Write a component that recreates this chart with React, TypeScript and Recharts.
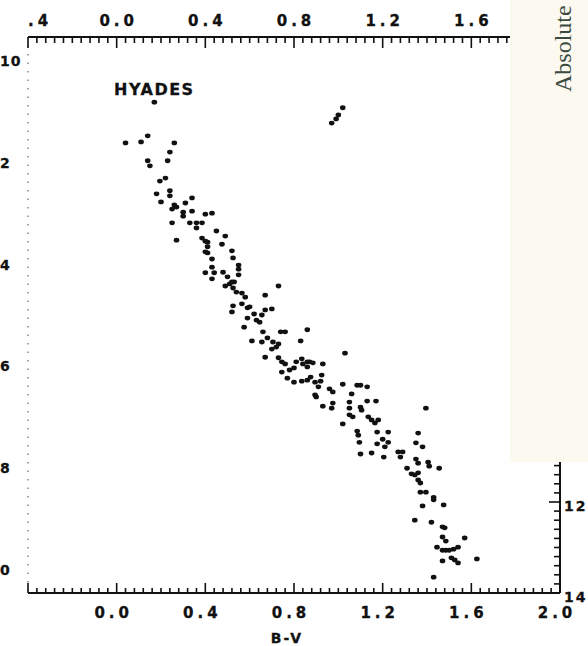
import { ScatterChart, Scatter, XAxis, YAxis, ReferenceDot } from "recharts";

// B-V axis (top and bottom share one scale)
const bvMajor = [-0.4, 0, 0.4, 0.8, 1.2, 1.6, 2.0];
const topLabels = [".4", "0.0", "0.4", "0.8", "1.2", "1.6", "2.0"];
const bottomLabels = ["", "0.0", "0.4", "0.8", "1.2", "1.6", "2.0"];

// magnitude axis on the left, as it reads on the scan
const magTicks = [0, 2, 4, 6, 8, 10];
const magLabels = ["10", "2", "4", "6", "8", "0"];

// stub of the neighbouring panel's axis on the right
const rightMajor = [12, 14];
const rightLabels = ["12", "14"];

// [B-V, M] main sequence
const mainSequence: [number, number][] = [
  [0.04, 1.61], [0.11, 1.59], [0.14, 1.47], [0.26, 1.61], [0.24, 1.79],
  [0.14, 1.96], [0.15, 2.06], [0.23, 1.96], [0.195, 2.36], [0.22, 2.3],
  [0.18, 2.61], [0.24, 2.55], [0.24, 2.65], [0.2, 2.77], [0.34, 2.69],
  [0.26, 2.83], [0.27, 2.87], [0.25, 2.91], [0.31, 2.79], [0.3, 2.97],
  [0.3, 3.05], [0.34, 2.95], [0.4, 3.01], [0.43, 2.99], [0.25, 3.18],
  [0.33, 3.18], [0.36, 3.18], [0.36, 3.28], [0.385, 3.18], [0.45, 3.34],
  [0.49, 3.44], [0.27, 3.52], [0.385, 3.48], [0.4, 3.54], [0.41, 3.56],
  [0.475, 3.6], [0.41, 3.65], [0.4, 3.75], [0.41, 3.77], [0.52, 3.73],
  [0.43, 3.89], [0.525, 3.87], [0.43, 4.05], [0.55, 4.01], [0.55, 4.09],
  [0.55, 4.2], [0.4, 4.16], [0.44, 4.16], [0.43, 4.28], [0.48, 4.15],
  [0.5, 4.24], [0.52, 4.34], [0.53, 4.34], [0.49, 4.42], [0.51, 4.38],
  [0.73, 4.42], [0.525, 4.46], [0.54, 4.54], [0.565, 4.56], [0.58, 4.64],
  [0.67, 4.6], [0.525, 4.81], [0.52, 4.93], [0.565, 4.77], [0.59, 4.85],
  [0.6, 4.83], [0.67, 4.89], [0.7, 4.87], [0.655, 4.99], [0.59, 5.05],
  [0.62, 4.97], [0.63, 5.09], [0.645, 5.13], [0.575, 5.23], [0.66, 5.32],
  [0.74, 5.32], [0.76, 5.32], [0.86, 5.28], [0.61, 5.5], [0.655, 5.52],
  [0.68, 5.44], [0.705, 5.52], [0.72, 5.62], [0.73, 5.56], [0.83, 5.5],
  [0.7, 5.66], [1.03, 5.74], [0.67, 5.82], [0.73, 5.83], [0.745, 5.91],
  [0.76, 5.95], [0.81, 5.91], [0.835, 5.85], [0.84, 5.95], [0.86, 5.91],
  [0.87, 5.91], [0.885, 5.93], [0.86, 6.01], [0.8, 6.03], [0.78, 6.07],
  [0.93, 5.95], [0.745, 6.11], [0.77, 6.23], [0.8, 6.31], [0.835, 6.29],
  [0.86, 6.27], [0.875, 6.21], [0.895, 6.31], [0.92, 6.29], [0.925, 6.17],
  [0.91, 6.4], [1.02, 6.35], [1.085, 6.37], [1.1, 6.37], [1.13, 6.4],
  [0.96, 6.44], [0.975, 6.5], [0.895, 6.56], [0.9, 6.6], [1.06, 6.54],
  [0.93, 6.78], [0.97, 6.82], [0.975, 6.72], [1.05, 6.7], [1.05, 6.82],
  [1.1, 6.8], [1.105, 6.86], [1.13, 6.68], [1.17, 6.68], [1.395, 6.82],
  [1.05, 6.95], [1.065, 6.99], [1.02, 7.13], [1.135, 6.99], [1.15, 7.05],
  [1.165, 7.11], [1.18, 7.05], [1.085, 7.27], [1.09, 7.35], [1.095, 7.49],
  [1.175, 7.29], [1.225, 7.29], [1.2, 7.43], [1.225, 7.49], [1.175, 7.52],
  [1.21, 7.58], [1.1, 7.72], [1.15, 7.7], [1.205, 7.78], [1.27, 7.68],
  [1.29, 7.68], [1.28, 7.78], [1.36, 7.31], [1.35, 7.5], [1.38, 7.58],
  [1.35, 7.82], [1.36, 7.9], [1.405, 7.88], [1.41, 7.96], [1.455, 8.0],
  [1.31, 8.0], [1.33, 8.11], [1.345, 8.13], [1.36, 8.09], [1.36, 8.23],
  [1.37, 8.29], [1.37, 8.47], [1.395, 8.47], [1.43, 8.57], [1.43, 8.62],
  [1.38, 8.74], [1.475, 8.72], [1.345, 9.02], [1.42, 9.06], [1.47, 9.15],
  [1.48, 9.17], [1.47, 9.35], [1.485, 9.43], [1.57, 9.37], [1.445, 9.55],
  [1.47, 9.61], [1.485, 9.61], [1.5, 9.61], [1.52, 9.59], [1.54, 9.55],
  [1.47, 9.82], [1.51, 9.76], [1.525, 9.8], [1.54, 9.86], [1.625, 9.78],
  [1.43, 10.14],
];

// bright stars above the turn-off and the red giants
const brightStars: [number, number][] = [
  [0.17, 0.81], [0.97, 1.22], [0.99, 1.14], [1.0, 1.06], [1.02, 0.92],
];

const ink = "#111";
const labelFont = "'DejaVu Sans', sans-serif";

const bvTicks = Array.from({ length: 61 }, (_, i) => Math.round((-0.4 + i * 0.04) * 100) / 100);
const rightTicks = Array.from({ length: 15 }, (_, i) => Math.round((11.2 + i * 0.2) * 10) / 10);

const toPoints = (rows: [number, number][]) => rows.map(([bv, mv]) => ({ bv, mv }));

const majorIndex = (v: number) => bvMajor.findIndex((m) => Math.abs(m - v) < 1e-6);

const labelStyle = {
  fontFamily: labelFont,
  fontWeight: 700,
  fontSize: 15,
  letterSpacing: 4,
  fill: ink,
  stroke: ink,
  strokeWidth: 0.3,
};

function TopTick(props: any) {
  const { x, y, payload } = props;
  const i = majorIndex(payload.value);
  return (
    <g>
      <line x1={x} x2={x} y1={y} y2={y + (i >= 0 ? 11 : 6)} stroke={ink} strokeWidth={1.6} />
      {i >= 0 && (
        <text
          x={i === 0 ? x : x + 2}
          y={y - 16}
          textAnchor={i === 0 ? "start" : "middle"}
          dominantBaseline="central"
          style={labelStyle}
        >
          {topLabels[i]}
        </text>
      )}
    </g>
  );
}

function BottomTick(props: any) {
  const { x, y, payload } = props;
  const i = majorIndex(payload.value);
  return (
    <g>
      <line x1={x} x2={x} y1={y} y2={y - (i >= 0 ? 10 : 5)} stroke={ink} strokeWidth={1.6} />
      {i > 0 && (
        <text x={x - 3} y={y + 20} textAnchor="middle" dominantBaseline="central" style={labelStyle}>
          {bottomLabels[i]}
        </text>
      )}
    </g>
  );
}

function LeftTick(props: any) {
  const { y, payload } = props;
  const i = magTicks.indexOf(payload.value);
  return (
    <text x={0} y={y} textAnchor="start" dominantBaseline="central" style={{ ...labelStyle, fontSize: 14, letterSpacing: 1 }}>
      {magLabels[i]}
    </text>
  );
}

function RightTick(props: any) {
  const { x, y, payload } = props;
  const i = rightMajor.indexOf(payload.value);
  return (
    <g>
      <line x1={x} x2={x - (i >= 0 ? 11 : 6)} y1={y} y2={y} stroke={ink} strokeWidth={1.6} />
      {i >= 0 && (
        <text x={x + 4} y={y + 4} textAnchor="start" dominantBaseline="central" style={{ ...labelStyle, fontSize: 14, letterSpacing: 2 }}>
          {rightLabels[i]}
        </text>
      )}
    </g>
  );
}

const Star = (p: any) => <ellipse cx={p.cx} cy={p.cy} rx={2.8} ry={2.4} fill={ink} />;
const NoMark = () => <g />;

export default function App() {
  return (
    <div style={{ position: "absolute", left: 0, top: 0, width: 588, height: 646, background: "#fff", overflow: "hidden" }}>
      <ScatterChart width={588} height={646} margin={{ top: 36, right: 27, bottom: 52, left: 27 }}>
        <XAxis
          xAxisId="bottom"
          dataKey="bv"
          type="number"
          scale="linear"
          domain={[-0.4, 2.0]}
          ticks={bvTicks}
          interval={0}
          height={1}
          tickSize={0}
          tickMargin={0}
          tickLine={false}
          axisLine={{ stroke: ink, strokeWidth: 2 }}
          tick={BottomTick}
          allowDataOverflow
          label={{
            content: (p: any) => (
              <text
                x={p.viewBox.x + p.viewBox.width / 2 - 7}
                y={p.viewBox.y + 45}
                textAnchor="middle"
                dominantBaseline="central"
                style={{ ...labelStyle, fontSize: 14, letterSpacing: 2 }}
              >
                B-V
              </text>
            ),
          }}
        />
        <XAxis
          xAxisId="top"
          dataKey="bv"
          orientation="top"
          type="number"
          scale="linear"
          domain={[-0.4, 2.0]}
          ticks={bvTicks}
          interval={0}
          height={1}
          tickSize={0}
          tickMargin={0}
          tickLine={false}
          axisLine={{ stroke: ink, strokeWidth: 2 }}
          tick={TopTick}
          allowDataOverflow
        />
        <YAxis
          yAxisId="left"
          dataKey="mv"
          type="number"
          domain={[-0.47, 10.45]}
          reversed
          ticks={magTicks}
          interval={0}
          width={1}
          tickSize={0}
          tickMargin={0}
          tickLine={false}
          axisLine={{ stroke: "#888", strokeWidth: 1.5, strokeDasharray: "1.5 7" }}
          tick={LeftTick}
          allowDataOverflow
        />
        <YAxis
          yAxisId="right"
          orientation="right"
          type="number"
          domain={[1.78, 14]}
          reversed
          ticks={rightTicks}
          interval={0}
          width={1}
          tickSize={0}
          tickMargin={0}
          tickLine={false}
          axisLine={{ stroke: ink, strokeWidth: 2 }}
          tick={RightTick}
          allowDataOverflow
        />
        <ReferenceDot
          xAxisId="bottom"
          yAxisId="left"
          x={0.17}
          y={0.57}
          r={0}
          label={{
            content: (p: any) => (
              <text
                x={p.viewBox.x}
                y={p.viewBox.y}
                textAnchor="middle"
                dominantBaseline="central"
                style={{ ...labelStyle, fontSize: 16, letterSpacing: 1.5 }}
              >
                HYADES
              </text>
            ),
          }}
        />
        <Scatter
          xAxisId="bottom"
          yAxisId="left"
          data={toPoints(mainSequence)}
          fill={ink}
          shape={Star}
          isAnimationActive={false}
        />
        <Scatter
          xAxisId="bottom"
          yAxisId="left"
          data={toPoints(brightStars)}
          fill={ink}
          shape={Star}
          isAnimationActive={false}
        />
        {/* binds the top axis so that it gets a scale; draws nothing */}
        <Scatter
          xAxisId="top"
          yAxisId="left"
          data={toPoints(brightStars)}
          shape={NoMark}
          isAnimationActive={false}
        />
      </ScatterChart>
      <div
        style={{
          position: "absolute",
          left: 510,
          top: 0,
          width: 78,
          height: 462,
          background: "#fbf9f0",
        }}
      >
        <span
          style={{
            position: "absolute",
            left: 41,
            top: 92,
            transform: "rotate(-90deg)",
            transformOrigin: "0 0",
            whiteSpace: "nowrap",
            fontFamily: "'Liberation Serif', 'DejaVu Serif', serif",
            fontSize: 24,
            lineHeight: "24px",
            color: "#3b4a40",
          }}
        >
          Absolute
        </span>
      </div>
    </div>
  );
}
